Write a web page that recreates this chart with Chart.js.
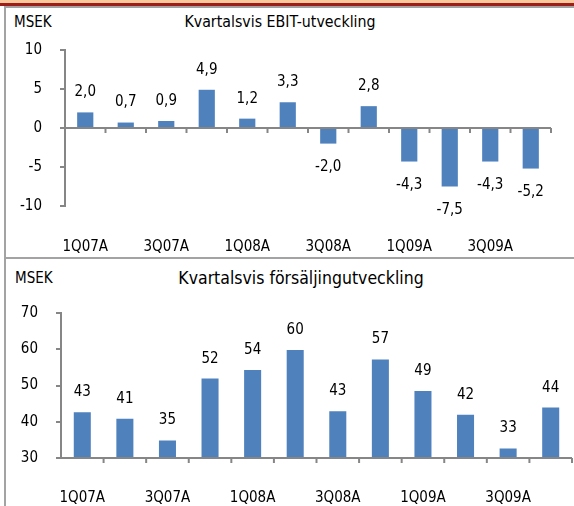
<!DOCTYPE html>
<html>
<head>
<meta charset="utf-8">
<script src="https://cdn.jsdelivr.net/npm/chart.js@4"></script>
<style>
  html, body { margin:0; padding:0; background:#fff; }
  body { width:574px; height:506px; position:relative; overflow:hidden;
         font-family:"DejaVu Sans Condensed","DejaVu Sans",sans-serif; }
  .band { position:absolute; left:0; width:574px; }
  .txt { position:absolute; font-size:15px; line-height:20px; color:#000; white-space:nowrap; }
  canvas { position:absolute; left:0; }
</style>
</head>
<body>
<div class="band" style="top:0;height:3px;background:#f9c99c;"></div>
<div class="band" style="top:3px;height:3px;background:#9c1d1a;"></div>
<div class="band" style="top:6px;left:4px;width:570px;height:2px;background:#a3a3a3;"></div>
<div class="band" style="top:6px;left:4px;width:2px;height:500px;background:#a3a3a3;"></div>
<div class="band" style="top:257px;left:4px;width:570px;height:2px;background:#a3a3a3;"></div>

<div class="txt" style="left:14px;top:12px;">MSEK</div>
<div class="txt" id="t1" style="left:0;width:560px;text-align:center;top:12px;font-size:15.8px;">Kvartalsvis EBIT-utveckling</div>
<div class="txt" style="left:15px;top:268px;">MSEK</div>
<div class="txt" id="t2" style="left:0;width:602px;text-align:center;top:268px;font-size:17.5px;">Kvartalsvis försäljingutveckling</div>

<div style="position:absolute;left:0;top:0;width:574px;height:256px;"><canvas id="c1"></canvas></div>
<div style="position:absolute;left:0;top:258px;width:574px;height:248px;"><canvas id="c2"></canvas></div>

<script>
const categories = ['1Q07A','2Q07A','3Q07A','4Q07A','1Q08A','2Q08A','3Q08A','4Q08A','1Q09A','2Q09A','3Q09A','4Q09A'];
const tickLabels = ['1Q07A','','3Q07A','','1Q08A','','3Q08A','','1Q09A','','3Q09A',''];
const ebitValues = [2.0, 0.7, 0.9, 4.9, 1.2, 3.3, -2.0, 2.8, -4.3, -7.5, -4.3, -5.2];
const salesValues = [42.6, 40.8, 34.8, 51.9, 54.3, 59.8, 42.9, 57.2, 48.5, 41.9, 32.6, 43.9];
const ebitTicks = [-10, -5, 0, 5, 10];
const salesTicks = [30, 40, 50, 60, 70];

const FONT = '"DejaVu Sans Condensed", "DejaVu Sans", sans-serif';
const AXIS = '#868686';
const BAR = '#4f81bd';

Chart.defaults.font.family = FONT;
Chart.defaults.font.size = 15;
Chart.defaults.color = '#000';

const axisLinePlugin = {
  id: 'axisLine',
  afterDatasetsDraw(chart, args, opts) {
    const ctx = chart.ctx, x = chart.scales.x, y = chart.scales.y, ca = chart.chartArea;
    const yp = y.getPixelForValue(opts.base);
    ctx.save();
    ctx.strokeStyle = AXIS;
    ctx.lineWidth = 2;
    ctx.beginPath();
    ctx.moveTo(ca.left, yp);
    ctx.lineTo(ca.right, yp);
    ctx.stroke();
    const n = chart.data.labels.length;
    for (let i = 1; i <= n; i++) {
      let bx;
      if (i < n) bx = (x.getPixelForValue(i - 1) + x.getPixelForValue(i)) / 2;
      else bx = ca.right;
      ctx.beginPath();
      ctx.moveTo(bx, yp);
      ctx.lineTo(bx, yp + 5);
      ctx.stroke();
    }
    ctx.restore();
  }
};

const valueLabelPlugin = {
  id: 'valueLabels',
  afterDatasetsDraw(chart, args, opts) {
    const ctx = chart.ctx;
    const meta = chart.getDatasetMeta(0);
    const vals = chart.data.datasets[0].data;
    ctx.save();
    ctx.font = '15px ' + FONT;
    ctx.fillStyle = '#000';
    ctx.textAlign = 'center';
    ctx.textBaseline = 'middle';
    meta.data.forEach((bar, i) => {
      const v = vals[i];
      const yy = v >= 0 ? bar.y - 20 : bar.y + 24;
      ctx.fillText(opts.fmt(v), bar.x, yy);
    });
    ctx.restore();
  }
};

function makeChart(id, values, ticks, base, geom, fmt) {
  return new Chart(document.getElementById(id), {
    type: 'bar',
    data: {
      labels: categories,
      datasets: [{ data: values, backgroundColor: BAR, borderWidth: 0,
                   barPercentage: 0.4, categoryPercentage: 1.0 }]
    },
    options: {
      responsive: true,
      maintainAspectRatio: false,
      animation: false,
      layout: { padding: { top: geom.top, right: geom.right, left: 0, bottom: 0 } },
      plugins: {
        legend: { display: false },
        tooltip: { enabled: false },
        axisLine: { base: base },
        valueLabels: { fmt: fmt }
      },
      scales: {
        x: {
          grid: { display: false },
          border: { display: false },
          ticks: { autoSkip: false, maxRotation: 0, padding: geom.xpad,
                   callback: (v, i) => tickLabels[i] },
          afterFit: s => { s.height = geom.xh; }
        },
        y: {
          min: ticks[0], max: ticks[ticks.length - 1],
          afterBuildTicks: s => { s.ticks = ticks.map(v => ({ value: v })); },
          grid: { drawOnChartArea: false, drawTicks: true, tickLength: 5, color: AXIS, lineWidth: 2 },
          border: { display: true, color: AXIS, width: 2 },
          ticks: { padding: 18 },
          afterFit: s => { s.width = geom.yw; }
        }
      }
    },
    plugins: [axisLinePlugin, valueLabelPlugin]
  });
}

makeChart('c1', ebitValues, ebitTicks, 0,
  { top: 50, right: 23, xh: 50, xpad: 24, yw: 65 },
  v => v.toFixed(1).replace('.', ','));
makeChart('c2', salesValues, salesTicks, 30,
  { top: 55, right: 2, xh: 48, xpad: 23, yw: 61 },
  v => String(Math.round(v)));
</script>
</body>
</html>
